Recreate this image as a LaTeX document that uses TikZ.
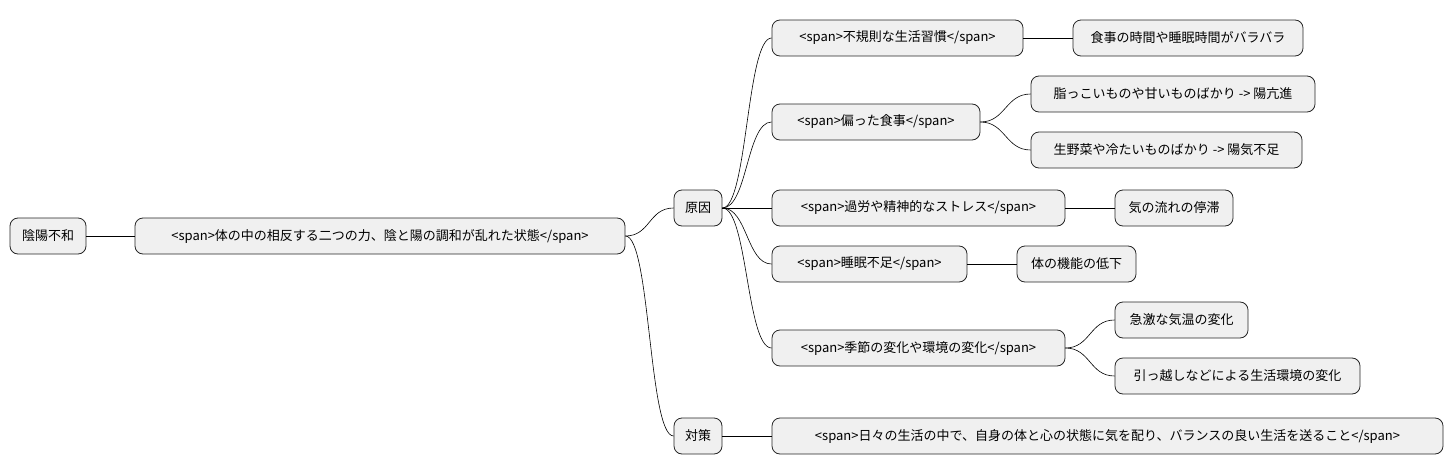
\documentclass[tikz,border=0pt]{standalone}
\usepackage{fontspec}
\setmainfont{Noto Sans CJK JP}
\begin{document}
\begin{tikzpicture}[x=1pt,y=-1pt,
  box/.style={draw=black!85,fill=black!6,rounded corners=8pt,minimum height=36pt,inner sep=0pt,font=\fontsize{13}{15}\selectfont,line width=0.8pt},
  edge/.style={line width=0.6pt}]
\useasboundingbox (0,0) rectangle (1454,471);
\newcommand{\bx}[5]{\node[box,minimum width=#4] (#1) at (#2,#3) {#5};}
\bx{root}{48}{236}{76pt}{陰陽不和}
\bx{def}{380}{236}{490pt}{<span>体の中の相反する二つの力、陰と陽の調和が乱れた状態</span>}
\bx{gen}{698}{208}{48pt}{原因}
\bx{tai}{698}{436}{48pt}{対策}
\bx{a}{897.5}{38}{251pt}{<span>不規則な生活習慣</span>}
\bx{a1}{1188}{38}{230pt}{食事の時間や睡眠時間がバラバラ}
\bx{b}{876}{122}{208pt}{<span>偏った食事</span>}
\bx{b1}{1173}{94}{284pt}{脂っこいものや甘いものばかり -> 陽亢進}
\bx{b2}{1166.5}{150}{271pt}{生野菜や冷たいものばかり -> 陽気不足}
\bx{c}{918.5}{208}{293pt}{<span>過労や精神的なストレス</span>}
\bx{c1}{1174}{208}{118pt}{気の流れの停滞}
\bx{d}{869.5}{264}{195pt}{<span>睡眠不足</span>}
\bx{d1}{1076.5}{264}{119pt}{体の機能の低下}
\bx{e}{918.5}{348}{293pt}{<span>季節の変化や環境の変化</span>}
\bx{e1}{1181.5}{320}{133pt}{急激な気温の変化}
\bx{e2}{1237.5}{376}{245pt}{引っ越しなどによる生活環境の変化}
\bx{f}{1107.5}{436}{671pt}{<span>日々の生活の中で、自身の体と心の状態に気を配り、バランスの良い生活を送ること</span>}
\foreach \p/\c in {root/def,def/gen,def/tai,gen/a,gen/b,gen/c,gen/d,gen/e,a/a1,b/b1,b/b2,c/c1,d/d1,e/e1,e/e2,tai/f}
  \draw[edge] (\p.east) .. controls +(25,0) and +(-25,0) .. (\c.west);
\end{tikzpicture}
\end{document}
